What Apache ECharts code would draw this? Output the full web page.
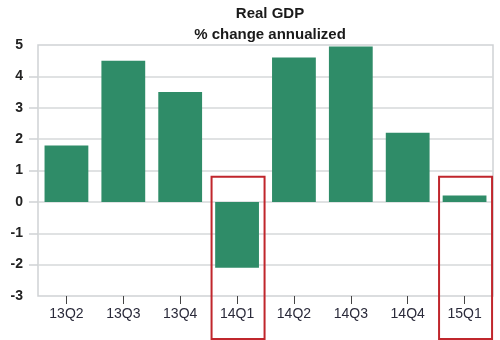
<!DOCTYPE html>
<html>
<head>
<meta charset="utf-8">
<script src="https://cdn.jsdelivr.net/npm/echarts@6/dist/echarts.min.js"></script>
<style>html,body{margin:0;padding:0;background:#fff}#c{width:500px;height:340px}</style>
</head>
<body>
<div id="c"></div>
<script>
var titleLine1 = 'Real GDP';
var titleLine2 = '% change annualized';
var categories = ['13Q2', '13Q3', '13Q4', '14Q1', '14Q2', '14Q3', '14Q4', '15Q1'];
var gdpValues = [1.8, 4.5, 3.5, -2.1, 4.6, 4.95, 2.2, 0.2];
var yTicks = [-3, -2, -1, 0, 1, 2, 3, 4, 5];
var innerTicks = [-2, -1, 0, 1, 2, 3, 4];
var highlighted = ['14Q1', '15Q1'];

var chart = echarts.init(document.getElementById('c'), null, {renderer: 'canvas'});
var option = {
  animation: false,
  backgroundColor: '#ffffff',
  title: [
    {text: titleLine1, left: 265, top: 1, textAlign: 'center',
     textStyle: {fontFamily: 'Liberation Sans, Arial, sans-serif', fontSize: 15, fontWeight: 'bold', color: '#1a1a1a'}},
    {text: titleLine2, left: 265, top: 22, textAlign: 'center',
     textStyle: {fontFamily: 'Liberation Sans, Arial, sans-serif', fontSize: 15, fontWeight: 'bold', color: '#1a1a1a'}}
  ],
  grid: {left: 38, right: 7, top: 45, bottom: 44, show: true, borderColor: '#cfd2d5', borderWidth: 1.5},
  xAxis: {
    type: 'category',
    data: categories,
    axisLine: {show: false, onZero: false},
    axisTick: {show: true, alignWithLabel: true, length: 8, lineStyle: {color: '#444'}},
    axisLabel: {margin: 11, fontFamily: 'Liberation Sans, Arial, sans-serif', fontSize: 14, color: '#2a2a3a'}
  },
  yAxis: {
    type: 'value',
    min: yTicks[0],
    max: yTicks[yTicks.length - 1],
    interval: 1,
    axisLine: {show: false},
    axisTick: {show: true, length: 9, customValues: innerTicks, lineStyle: {color: '#cfd2d5', width: 1.5}},
    axisLabel: {margin: 15, fontFamily: 'Liberation Sans, Arial, sans-serif', fontSize: 14, fontWeight: 'bold', color: '#222'},
    splitLine: {show: true, lineStyle: {color: '#d6d8da', width: 1.5}}
  },
  series: [{
    type: 'bar',
    data: gdpValues,
    barCategoryGap: '23%',
    itemStyle: {color: '#2f8c68'}
  }]
};
chart.setOption(option);

function drawBoxes() {
  var graphics = [];
  var step = chart.convertToPixel({xAxisIndex: 0}, 1) - chart.convertToPixel({xAxisIndex: 0}, 0);
  var half = step * 0.466;
  highlighted.forEach(function (cat) {
    var idx = categories.indexOf(cat);
    var cx = chart.convertToPixel({xAxisIndex: 0}, idx);
    var topY = chart.convertToPixel({yAxisIndex: 0}, 0.8);
    var bottomY = 339;
    graphics.push({
      type: 'rect',
      shape: {x: cx - half + 1, y: topY, width: half * 2, height: bottomY - topY},
      style: {fill: 'none', stroke: '#c0262c', lineWidth: 2},
      z: 100
    });
  });
  chart.setOption({graphic: graphics});
}
drawBoxes();
</script>
</body>
</html>
